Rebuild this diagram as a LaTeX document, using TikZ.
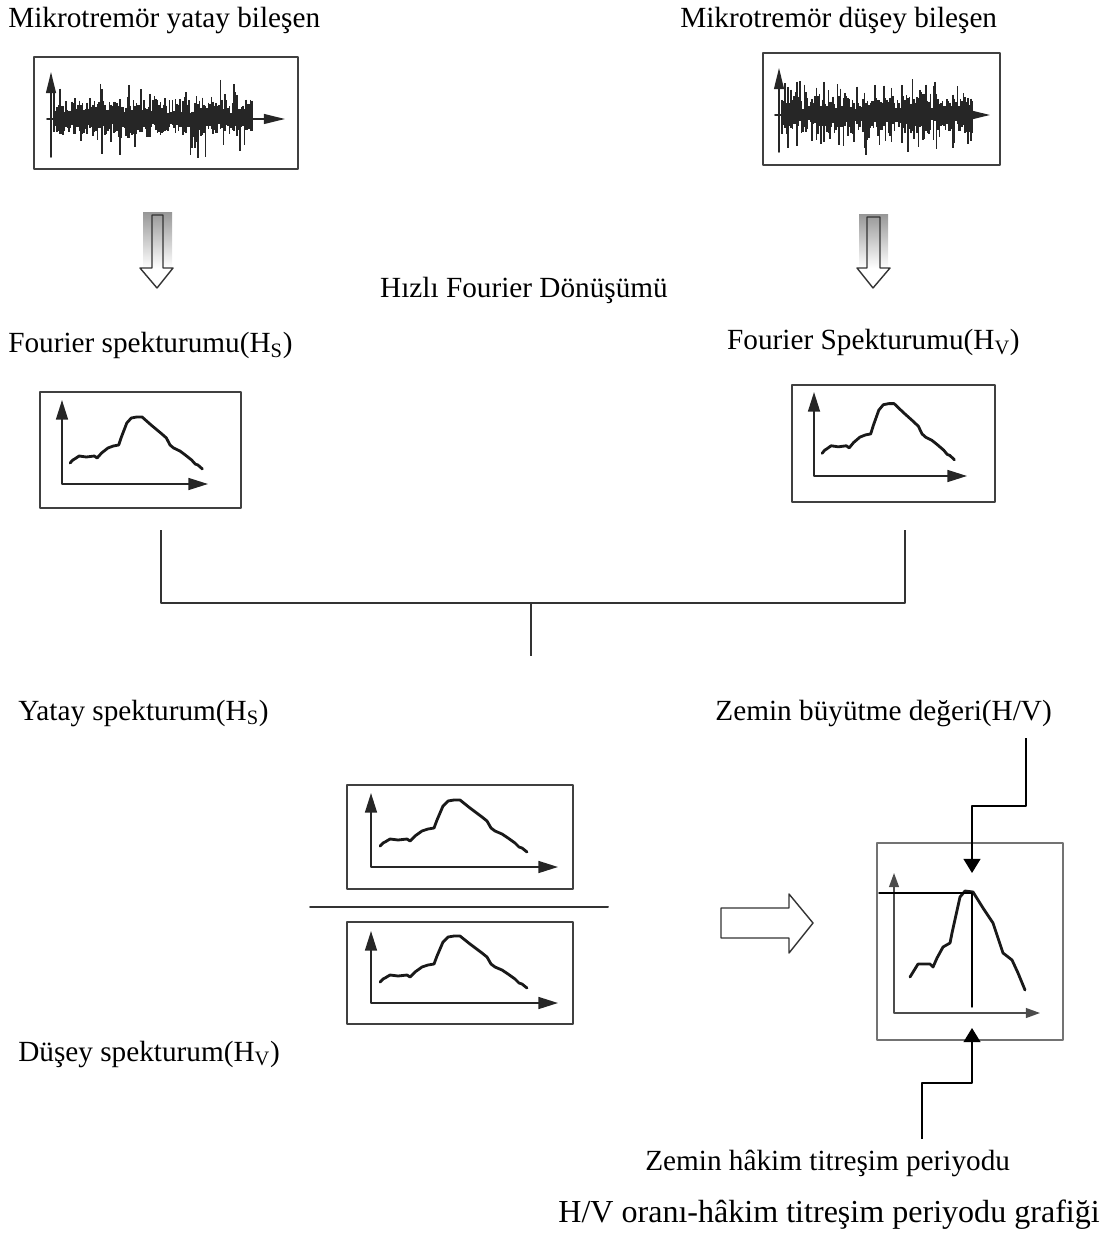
\documentclass[tikz,border=0pt]{standalone}
\usepackage{fontspec}
\setmainfont{Liberation Serif}
\usetikzlibrary{arrows.meta}
% spectrum curve, relative to the axis origin
\newcommand{\speccurve}{\draw[curve] (9,-21)--(12,-24)--(14,-25)--(19,-28)--(27,-27)--(36,-28)--(39,-26)--(44,-31)--(51,-36)--(57,-38)--(63,-39)--(66,-47)--(72,-61)--(77,-66)--(83,-67)--(89,-67)--(99,-59)--(111,-50)--(116,-46)--(120,-39)--(124,-36)--(131,-33)--(137,-29)--(144,-24)--(148,-20)--(151,-19)--(156,-15);}
\begin{document}
\begin{tikzpicture}[x=0.025cm,y=-0.025cm,line join=round,line cap=round,
	lbl/.style={inner sep=0pt,font=\fontsize{20.8}{25}\selectfont},
	caption/.style={inner sep=0pt,font=\fontsize{22.8}{27}\selectfont},
	frame/.style={draw=black!75,line width=1.4pt},
	axis/.style={black!85,line width=1.3pt,{Triangle[length=14pt,width=8.5pt]}-{Triangle[length=14pt,width=8.5pt]}},
	waveaxis/.style={black!85,line width=1.1pt,-{Triangle[length=15pt,width=7pt]}},
	wave/.style={black!85,line width=1.1pt,line cap=butt},
	curve/.style={black!90,line width=2pt},
	blockarrow/.style={draw=black!80,line width=1pt},
	bracket/.style={black!80,line width=1.4pt,line cap=butt},
	pointer/.style={black,line width=1pt,line cap=butt,-{Triangle[length=10pt,width=12pt]}}]
\useasboundingbox (0,0) rectangle (1112,1233);

% labels
\node[lbl,anchor=base west] (horw) at (8,28) {Mikrotremör yatay bileşen};
\node[lbl,anchor=base west] (verw) at (680,28) {Mikrotremör düşey bileşen};
\node[lbl,anchor=base] (fft) at (524,298) {Hızlı Fourier Dönüşümü};
\node[lbl,anchor=base west] (fsh) at (8,353) {Fourier spekturumu(H\textsubscript{S})};
\node[lbl,anchor=base east] (fsv) at (1020,350) {Fourier Spekturumu(H\textsubscript{V})};
\node[lbl,anchor=base west] (hsp) at (18,720) {Yatay spekturum(H\textsubscript{S})};
\node[lbl,anchor=base east] (amp) at (1052,720) {Zemin büyütme değeri(H/V)};
\node[lbl,anchor=base west] (vsp) at (18,1061) {Düşey spekturum(H\textsubscript{V})};
\node[lbl,anchor=base west] (per) at (645,1170) {Zemin hâkim titreşim periyodu};
\node[caption,anchor=base east] (hvcap) at (1100,1222) {H/V oranı-hâkim titreşim periyodu grafiği};

% horizontal record
\draw[frame] (34,57) rectangle (298,169);
\pgfmathsetseed{11}
\foreach \i in {0,...,132}{
	\pgfmathsetmacro\up{6+13*rnd+22*rnd^5}
	\pgfmathsetmacro\dn{5+12*rnd+24*rnd^5}
	\draw[wave] ({54+1.5*\i},{119-\up}) -- ({54+1.5*\i},{119+\dn});
}
\draw[waveaxis] (51,157)--(51,72);
\draw[waveaxis] (47,119)--(285,119);

% vertical record
\draw[frame] (763,53) rectangle (1000,165);
\pgfmathsetseed{29}
\foreach \i in {0,...,127}{
	\pgfmathsetmacro\up{6+13*rnd+22*rnd^5}
	\pgfmathsetmacro\dn{5+12*rnd+24*rnd^5}
	\draw[wave] ({782+1.5*\i},{115-\up}) -- ({782+1.5*\i},{115+\dn});
}
\draw[waveaxis] (779,152)--(779,68);
\draw[waveaxis] (775,115)--(990,115);

% FFT arrows
\shade[top color=black!40,bottom color=white] (143,213) rectangle (172,268);
\draw[blockarrow] (152,215)--(152,268)--(140,268)--(157,288)--(173,268)--(163,268)--(163,215)--cycle;
\shade[top color=black!40,bottom color=white] (859,215) rectangle (888,268);
\draw[blockarrow] (867,217)--(867,268)--(857,268)--(873,288)--(890,268)--(880,268)--(880,217)--cycle;

% Fourier spectra
\begin{scope}[shift={(62,484)}]
	\draw[frame] (-22,-92) rectangle (179,24);
	\draw[axis] (0,-84)--(0,0)--(146,0);
	\begin{scope}[xscale=0.9]\speccurve\end{scope}
\end{scope}
\begin{scope}[shift={(814,476)}]
	\draw[frame] (-22,-91) rectangle (181,26);
	\draw[axis] (0,-84)--(0,0)--(153,0);
	\begin{scope}[xscale=0.9,yscale=1.08]\speccurve\end{scope}
\end{scope}

% joining the two spectra
\coordinate (lfoot) at (161,530);
\coordinate (rfoot) at (905,530);
\coordinate (join) at (531,603);
\coordinate (stem) at (531,656);
\draw[bracket] (lfoot) -- ++(0,73) -| (rfoot);
\draw[bracket] (join) -- (stem);

% ratio
\begin{scope}[shift={(371,867)}]
	\draw[frame] (-24,-82) rectangle (202,22);
	\draw[axis] (0,-74)--(0,0)--(187,0);
	\speccurve
\end{scope}
\draw[black!80,line width=1.4pt] (310,907)--(608,907);
\begin{scope}[shift={(371,1003)}]
	\draw[frame] (-24,-81) rectangle (202,21);
	\draw[axis] (0,-72)--(0,0)--(187,0);
	\speccurve
\end{scope}

\draw[blockarrow] (721,908)--(789,908)--(789,894)--(813,923)--(789,953)--(789,938)--(721,938)--cycle;

% H/V graph
\draw[draw=black!55,line width=1.6pt] (877,843) rectangle (1063,1040);
\draw[black!70,line width=1.1pt,{Triangle[length=10pt,width=7pt]}-{Triangle[length=10pt,width=7pt]}] (894,873)--(894,1013)--(1040,1013);
\draw[curve] (910,977)--(918,964)--(930,964)--(933,967)--(937,958)--(943,947)--(950,943)--(952,933)--(960,897)--(965,891)--(973,892)--(983,908)--(993,923)--(1003,953)--(1012,960)--(1018,973)--(1025,990);
\draw[black,line width=1pt] (879,893)--(972,893)--(972,1007);

\coordinate (ampfoot) at (1026,738);
\coordinate (peak) at (972,873);
\draw[pointer] (ampfoot) -- ++(0,68) -| (peak);
\coordinate (perhead) at (922,1139);
\coordinate (tbase) at (972,1028);
\draw[pointer] (perhead) -- ++(0,-56) -| (tbase);
\end{tikzpicture}
\end{document}
